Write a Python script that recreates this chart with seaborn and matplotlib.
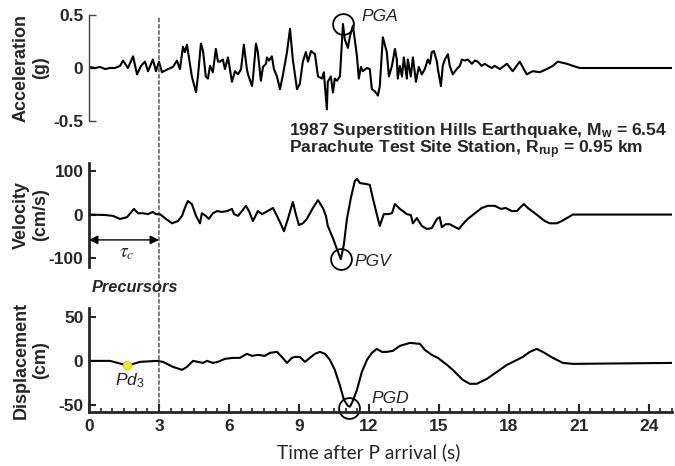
import numpy as np
import pandas as pd
import matplotlib
matplotlib.use("Agg")
import matplotlib.pyplot as plt
import seaborn as sns
from matplotlib.patches import ConnectionPatch
from matplotlib.ticker import MultipleLocator

# ---------------- data ----------------
acc_t = [0, 0.26, 0.47, 0.69, 0.9, 1.11, 1.33, 1.46, 1.67, 1.89, 2.06, 2.23, 2.4, 2.53, 2.74, 2.87,
         3.0, 3.13, 3.39, 3.6, 3.77, 3.9, 4.03, 4.11, 4.2, 4.33, 4.41, 4.59, 4.67, 4.8, 4.89, 5.01,
         5.1, 5.19, 5.31, 5.44, 5.53, 5.61, 5.74, 5.83, 5.96, 6.13, 6.26, 6.39, 6.52, 6.64, 6.77,
         6.82, 6.99, 7.03, 7.16, 7.24, 7.37, 7.46, 7.59, 7.63, 7.72, 7.84, 7.93, 8.06, 8.19, 8.32,
         8.49, 8.62, 8.74, 8.92, 9.04, 9.17, 9.3, 9.39, 9.52, 9.69, 9.82, 9.99, 10.07, 10.2, 10.24,
         10.37, 10.46, 10.54, 10.63, 10.76, 10.89, 10.97, 11.1, 11.19, 11.32, 11.49, 11.57, 11.66,
         11.74, 11.92, 12.04, 12.13, 12.26, 12.39, 12.47, 12.6, 12.77, 12.86, 12.99, 13.12, 13.2,
         13.24, 13.33, 13.42, 13.5, 13.63, 13.67, 13.8, 13.89, 14.02, 14.14, 14.27, 14.4, 14.53,
         14.62, 14.7, 14.79, 14.92, 14.96, 15.09, 15.17, 15.26, 15.39, 15.47, 15.6, 15.77, 15.9,
         15.99, 16.12, 16.24, 16.42, 16.55, 16.67, 16.84, 16.97, 17.1, 17.27, 17.4, 17.62, 17.92,
         18.17, 18.47, 18.77, 19.03, 19.33, 19.63, 19.89, 20.1, 20.49, 20.75, 21.05, 25.0]
acc_g = [0.01, 0, 0.01, -0.01, 0, 0, 0.02, 0.07, 0, 0.11, -0.06, 0.02, 0.06, -0.03, 0.08, -0.03,
         0.06, -0.04, -0.01, 0.01, 0.07, -0.01, 0.2, 0.15, 0.22, 0.03, -0.08, -0.23, -0.08, 0.23, 0.16, -0.08,
         -0.1, 0.02, -0.04, 0.18, 0.06, 0.06, 0.08, -0.01, 0.1, -0.13, -0.03, -0.06, -0.01, 0.22, -0.01,
         -0.06, -0.17, -0.1, 0.23, 0.15, -0.12, 0.01, 0.04, 0.1, 0.07, 0.11, -0.01, -0.08, -0.2, -0.06,
         0.15, 0.37, 0.08, -0.2, -0.15, 0.06, 0.15, 0.06, 0.16, 0.13, -0.08, -0.1, -0.04, -0.39, -0.13,
         -0.08, -0.23, -0.1, -0.12, -0.08, 0.415, 0.27, 0.19, 0.3, 0.4, 0.11, -0.1, 0.01,
         -0.03, 0, -0.01, -0.2, -0.22, -0.26, -0.17, 0.29, 0.15, -0.08, 0.02, 0.18, 0.08,
         -0.1, 0.02, -0.08, 0.1, -0.1, 0.08, -0.08, 0.1, -0.13, 0.01, -0.06, -0.01, 0.08,
         0.04, 0.15, 0.16, 0.06, -0.01, -0.17, 0.02, 0.08, 0.13, 0.02, -0.06, -0.01, 0.02,
         0.08, 0.07, 0.08, 0.04, 0.07, 0.06, 0.02, 0.04, 0.02, 0, 0.02, -0.01, 0.04,
         -0.03, 0.06, -0.06, -0.03, -0.04, -0.01, 0.02, 0.06, 0.04, 0.02, 0, 0]

vel_t = [0, 0.69, 1.03, 1.33, 1.63, 1.93, 2.1, 2.31, 2.53, 2.74, 2.87, 3.04, 3.3, 3.56, 3.81, 3.99,
         4.11, 4.24, 4.41, 4.59, 4.76, 4.84, 5.01, 5.14, 5.31, 5.49, 5.7, 5.92, 6.13, 6.22, 6.39,
         6.56, 6.73, 6.86, 7.03, 7.24, 7.42, 7.59, 7.89, 8.06, 8.23, 8.36, 8.53, 8.74, 8.87, 9.0,
         9.17, 9.34, 9.6, 9.82, 10.03, 10.16, 10.24, 10.46, 10.63, 10.8, 10.93, 11.06, 11.23, 11.4,
         11.49, 11.62, 11.87, 12.04, 12.17, 12.34, 12.47, 12.64, 12.82, 12.99, 13.12, 13.33, 13.46,
         13.63, 13.8, 13.89, 14.06, 14.27, 14.49, 14.7, 14.92, 15.04, 15.13, 15.3, 15.47, 15.6,
         15.86, 16.03, 16.24, 16.55, 16.84, 17.1, 17.4, 17.66, 17.87, 18.13, 18.35, 18.47, 18.65,
         18.82, 19.12, 19.55, 19.76, 20.06, 20.27, 20.75, 25.0]
vel_cms = [0, -1, -3, -10, -6, 13, 3, 3, 1, 6, 1, 1, -10, -20, -15, -3,
           15, 31, 24, -3, -20, 3, -3, -10, 3, 8, 6, 8, 13, 1, -3,
           8, 20, 8, -15, 8, 1, 6, 15, -3, -22, -38, -10, 29, 1, -24,
           -20, -10, 15, 33, 15, -3, -26, -54, -79, -102, -68, -10, 38, 77,
           82, 72, 70, 68, 38, 1, -26, 1, 1, 3, 24, 13, 8,
           1, -1, -20, -8, -26, -33, -31, -10, -6, -29, -22, -22, -26,
           -33, -22, -10, 3, 15, 20, 20, 13, 15, 8, 8, 15, 24,
           15, 3, -15, -20, -20, -15, 0, 0]

disp_t = [0, 0.9, 1.54, 1.76, 2.19, 2.91, 3.17, 3.6, 3.99, 4.2, 4.46, 4.67, 4.89, 5.06, 5.31, 5.53,
          5.83, 6.17, 6.47, 6.77, 6.99, 7.24, 7.54, 7.76, 8.06, 8.27, 8.49, 8.7, 8.83, 9.04, 9.26,
          9.47, 9.69, 9.9, 10.12, 10.33, 10.54, 10.76, 10.93, 11.1, 11.19, 11.32, 11.49, 11.7, 11.92,
          12.13, 12.34, 12.56, 12.77, 13.03, 13.33, 13.76, 14.19, 14.4, 14.7, 14.96, 15.35, 15.6,
          16.03, 16.33, 16.63, 17.06, 17.49, 17.92, 18.35, 18.6, 18.9, 19.2, 19.46, 19.89, 20.32,
          20.75, 25.0]
disp_cm = [0, 0, -4.5, -4.5, -1.1, 0, -1.1, -6.8, -10.2, -6.8, 0, -1.1, -2.3, 0, -2.3, -1.1,
           2.3, 3.4, 3.4, 8, 5.7, 6.8, 5.7, 9.1, 10.2, 4.5, -2.3, 3.4, 4.5, 4.5, -1.1,
           3.4, 8, 10.2, 8, 1.1, -10.2, -28, -44, -51, -52, -45, -33, -12.5, 1.1,
           9.1, 13.6, 10.2, 10.2, 11.4, 17, 20.4, 19.3, 12.5, 6.8, 3.4, -4.5, -10.2,
           -21.6, -26, -26, -20.4, -12.5, -4.5, 1.1, 4.5, 10.2, 13.6, 10.2, 3.4, -2.3,
           -3.4, -2.3]

pga = (10.89, 0.415)
pgv = (10.8, -102)
pgd = (11.15, -53)
pd3 = (1.65, -5)
tau_c = (0, 3)
x_ticks = [0, 3, 6, 9, 12, 15, 18, 21, 24]

title1 = "1987 Superstition Hills Earthquake, M$_\\mathbf{w}$ = 6.54"
title2 = "Parachute Test Site Station, R$_\\mathbf{rup}$ = 0.95 km"

# ---------------- style ----------------
sns.set_style("ticks")
plt.rcParams["font.family"] = ["Liberation Sans", "DejaVu Sans"]
plt.rcParams["axes.unicode_minus"] = False
plt.rcParams["mathtext.fontset"] = "custom"
plt.rcParams["mathtext.rm"] = "Liberation Sans"
plt.rcParams["mathtext.it"] = "Liberation Sans:italic"
plt.rcParams["mathtext.bf"] = "Liberation Sans:bold"

fig = plt.figure(figsize=(6.75, 4.66), dpi=100)
L, W = 89 / 675, 583 / 675
ax1 = fig.add_axes([L, 1 - 121 / 466, W, 106 / 466])
ax2 = fig.add_axes([L, 1 - 267 / 466, W, 104 / 466])
ax3 = fig.add_axes([L, 1 - 412 / 466, W, 104 / 466])

df_a = pd.DataFrame({"t": acc_t, "v": acc_g})
df_v = pd.DataFrame({"t": vel_t, "v": vel_cms})
df_d = pd.DataFrame({"t": disp_t, "v": disp_cm})

sns.lineplot(data=df_a, x="t", y="v", ax=ax1, color="black", lw=1.5, sort=False)
sns.lineplot(data=df_v, x="t", y="v", ax=ax2, color="black", lw=1.5, sort=False)
sns.lineplot(data=df_d, x="t", y="v", ax=ax3, color="black", lw=1.5, sort=False)

lab_font = dict(fontsize=13, fontweight="bold")
tick_font = 12.5

for ax in (ax1, ax2, ax3):
    ax.set_xlim(0, 25)
    for s in ("top", "right"):
        ax.spines[s].set_visible(False)
    ax.set_xlabel("")
    ax.tick_params(axis="y", direction="in", length=5, width=1.5, pad=4, labelsize=tick_font)

ax1.set_ylim(-0.5, 0.5)
ax1.set_yticks([-0.5, 0, 0.5])
ax1.set_yticklabels(["-0.5", "0", "0.5"], fontweight="bold", fontsize=tick_font)
ax1.spines["left"].set_color("#444444")
ax1.spines["left"].set_linewidth(1.0)
ax1.tick_params(axis="y", width=1.0, color="#444444")
ax1.spines["bottom"].set_visible(False)
ax1.set_xticks([])
ax1.set_ylabel("Acceleration\n(g)", **lab_font)

ax2.set_ylim(-120, 118)
ax2.set_yticks([-100, 0, 100])
ax2.set_yticklabels(["-100", "0", "100"], fontweight="bold", fontsize=tick_font)
ax2.spines["left"].set_linewidth(2.0)
ax2.spines["bottom"].set_visible(False)
ax2.set_xticks([])
ax2.set_ylabel("Velocity\n(cm/s)", **lab_font)

ax3.set_ylim(-58, 60)
ax3.set_yticks([-50, 0, 50])
ax3.set_yticklabels(["-50", "0", "50"], fontweight="bold", fontsize=tick_font)
ax3.spines["left"].set_linewidth(2.0)
ax3.spines["bottom"].set_linewidth(2.0)
ax3.set_xticks(x_ticks)
ax3.set_xticklabels([str(v) for v in x_ticks], fontweight="bold", fontsize=tick_font)
ax3.xaxis.set_minor_locator(MultipleLocator(0.5))
ax3.tick_params(axis="x", which="major", direction="in", length=6, width=1.5, pad=5)
ax3.tick_params(axis="x", which="minor", direction="in", length=3, width=1.2)
ax3.set_ylabel("Displacement\n(cm)", **lab_font)

for ax in (ax1, ax2, ax3):
    ax.yaxis.set_label_coords(-0.068, 0.5)

# dashed line at 3 s through all panels
con = ConnectionPatch(xyA=(3, 0.47), coordsA=ax1.transData,
                      xyB=(3, -58), coordsB=ax3.transData,
                      linestyle=(0, (3, 2)), color="#333333", lw=0.9)
fig.add_artist(con)

# peak circles
circ = dict(marker="o", markersize=15, mfc="none", mec="black", mew=1.3, ls="none")
ax1.plot([pga[0]], [pga[1]], **circ, clip_on=False)
ax2.plot([pgv[0]], [pgv[1]], **circ, clip_on=False)
ax3.plot([pgd[0]], [pgd[1]], **circ, clip_on=False)
ax3.plot([pd3[0]], [pd3[1]], marker="o", markersize=6, mfc="#f2ea1c", mec="#d8cf10",
         mew=0.8, ls="none")

it_font = dict(fontsize=12.5, fontstyle="italic", color="#222222")
ax1.text(11.7, 0.49, "PGA", ha="left", va="center", **it_font)
ax2.text(11.4, -108, "PGV", ha="left", va="center", **it_font)
ax3.text(12.1, -43, "PGD", ha="left", va="center", **it_font)
ax3.text(1.76, -22, "Pd$_\\mathit{3}$", ha="center", va="center", **it_font)

# tau_c arrow
ax2.annotate("", xy=(tau_c[0], -58), xytext=(tau_c[1], -58),
             arrowprops=dict(arrowstyle="<|-|>", color="black", lw=1.0,
                             mutation_scale=13, shrinkA=0, shrinkB=0))
ax2.text(1.63, -90, r"$\tau_c$", ha="center", va="center", fontsize=14,
         math_fontfamily="stix")

fig.text(135 / 675, 1 - 287 / 466, "Precursors", ha="center", va="center",
         fontsize=11.8, fontweight="bold", fontstyle="italic")

fig.text(289 / 675, 1 - 130 / 466, title1, ha="left", va="center",
         fontsize=12.6, fontweight="bold")
fig.text(289 / 675, 1 - 150 / 466, title2, ha="left", va="center",
         fontsize=12.6, fontweight="bold")

fig.text(369 / 675, 1 - 452 / 466, "Time after P arrival (s)", ha="center", va="center",
         fontsize=13.8, family=["Lato", "DejaVu Sans"])

fig.savefig("out.png", dpi=100)
